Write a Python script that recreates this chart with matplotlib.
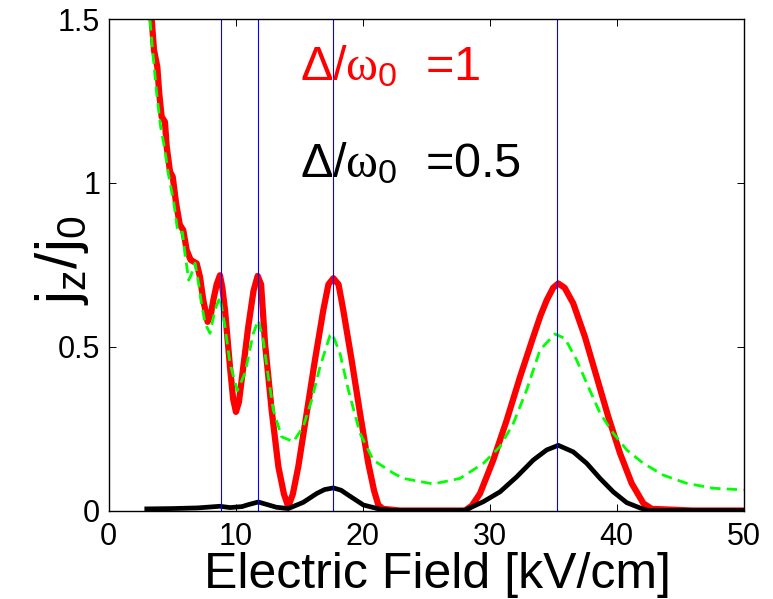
import numpy as np
import matplotlib
matplotlib.use("Agg")
import matplotlib.pyplot as plt

plt.rcParams['font.family'] = ['Liberation Sans', 'DejaVu Sans']
plt.rcParams['mathtext.fontset'] = 'custom'
plt.rcParams['mathtext.rm'] = 'Liberation Sans'
plt.rcParams['mathtext.it'] = 'Liberation Serif'

# field values where the vertical blue markers sit (kV/cm)
resonances = [8.83, 11.77, 17.65, 35.3]

# delta/omega0 = 1 (red)
x_red = [3.39, 3.57, 3.83, 3.98, 4.17, 4.43, 4.57, 4.83, 5.04, 5.3, 5.6, 5.87,
         6.14, 6.45, 6.93, 7.19, 7.45, 7.79, 8.05, 8.24, 8.5, 8.76, 8.95, 9.16,
         9.55, 9.8, 10.02, 10.25, 10.47, 10.99, 11.4, 11.73, 12.0, 12.31, 12.83,
         13.36, 13.8, 14.14, 14.5, 14.93, 15.59, 16.24, 16.9, 17.3, 17.69, 18.1,
         18.47, 19.13, 19.79, 20.44, 20.9, 21.23, 21.6, 22.94, 25.5, 28.06,
         28.6, 29.24, 30.28, 31.34, 32.39, 33.43, 34.0, 34.49, 35.0, 35.4, 35.9,
         36.58, 37.5, 38.42, 39.34, 40.26, 41.18, 42.1, 42.76, 46.0, 50.0]
y_red = [1.497, 1.405, 1.354, 1.273, 1.202, 1.186, 1.11, 1.034, 1.019, 0.94,
         0.872, 0.856, 0.795, 0.765, 0.754, 0.713, 0.642, 0.576, 0.6, 0.642,
         0.69, 0.718, 0.68, 0.612, 0.439, 0.34, 0.301, 0.33, 0.398, 0.561,
         0.67, 0.716, 0.69, 0.51, 0.307, 0.134, 0.05, 0.012, 0.05, 0.134,
         0.297, 0.459, 0.612, 0.69, 0.709, 0.69, 0.612, 0.459, 0.297, 0.144,
         0.06, 0.017, 0.005, 0.0, 0.0, 0.0, 0.015, 0.052, 0.154, 0.276, 0.408,
         0.53, 0.595, 0.642, 0.68, 0.693, 0.68, 0.632, 0.53, 0.408, 0.286,
         0.175, 0.083, 0.022, 0.005, 0.0, 0.0]

# delta/omega0 = 0.5 (black)
x_blk = [3.0, 5.0, 7.0, 8.76, 9.55, 10.5, 11.0, 11.78, 12.5, 13.2, 14.14,
         15.32, 16.38, 17.0, 17.69, 18.3, 18.87, 20.05, 21.36, 22.5, 27.5,
         28.06, 29.5, 30.81, 32.13, 33.43, 34.49, 35.4, 36.58, 37.64, 38.69,
         39.73, 40.79, 41.83, 42.5, 50.0]
y_blk = [0.005, 0.006, 0.008, 0.013, 0.009, 0.012, 0.018, 0.026, 0.018, 0.01,
         0.006, 0.025, 0.052, 0.064, 0.069, 0.062, 0.047, 0.017, 0.004, 0.0,
         0.0, 0.001, 0.027, 0.057, 0.103, 0.154, 0.185, 0.199, 0.179, 0.144,
         0.098, 0.057, 0.024, 0.008, 0.0, 0.0]

# green dashed curve
x_grn = [3.25, 3.46, 3.78, 4.09, 4.43, 4.69, 5.14, 5.4, 5.6, 5.8, 6.0, 6.3,
         6.5, 6.8, 7.06, 7.3, 7.6, 7.98, 8.37, 8.76, 9.16, 9.55, 10.13, 10.73,
         11.39, 11.78, 12.17, 12.57, 12.96, 13.62, 14.54, 15.32, 15.98, 16.64,
         17.43, 17.6, 18.21, 18.87, 19.79, 20.83, 22.41, 23.2, 25.56, 27.66,
         29.5, 30.81, 31.86, 32.91, 33.96, 35.14, 35.93, 36.85, 37.76, 38.69,
         39.73, 40.79, 42.1, 43.67, 45.51, 47.6, 50.0]
y_grn = [1.497, 1.405, 1.273, 1.171, 1.10, 1.029, 0.937, 0.862, 0.845, 0.85,
         0.786, 0.703, 0.72, 0.755, 0.698, 0.633, 0.57, 0.541, 0.612, 0.652,
         0.561, 0.449, 0.366, 0.419, 0.541, 0.581, 0.52, 0.408, 0.307, 0.225,
         0.21, 0.256, 0.337, 0.439, 0.535, 0.54, 0.48, 0.368, 0.236, 0.154,
         0.114, 0.098, 0.081, 0.098, 0.144, 0.195, 0.266, 0.368, 0.49, 0.539,
         0.525, 0.459, 0.378, 0.297, 0.236, 0.185, 0.144, 0.108, 0.083, 0.068,
         0.063]

xticks = [0, 10, 20, 30, 40, 50]
yticks = [0, 0.5, 1, 1.5]
ytick_labels = ['0', '0.5', '1', '1.5']

fig = plt.figure(figsize=(7.73, 5.99), dpi=100)
ax = fig.add_axes([0.1406, 0.1477, 0.8215, 0.8205])

ax.plot(x_red, y_red, color='#ff0000', lw=4.5, solid_joinstyle='round',
        solid_capstyle='round')
ax.plot(x_blk, y_blk, color='black', lw=3.4, solid_joinstyle='round')
ax.plot(x_grn, y_grn, color='#00ff00', lw=2.0, dashes=(3.8, 2.2))
for r in resonances:
    ax.axvline(r, color='#0000ff', lw=0.8)

ax.set_xlim(0, 50)
ax.set_ylim(0, 1.5)
ax.set_xticks(xticks)
ax.set_yticks(yticks)
ax.set_yticklabels(ytick_labels)
ax.tick_params(direction='in', top=True, right=True, length=5, width=0.7,
               labelsize=22)
ax.tick_params(axis='x', pad=8)
ax.tick_params(axis='y', pad=6)
for s in ax.spines.values():
    s.set_linewidth(1.0)

ax.text(15.06, 1.314, r'$\mathit{\Delta}/\mathit{\omega}_0$  =1', color='#ff0000',
        fontsize=35, va='baseline')
ax.text(15.06, 1.018, r'$\mathit{\Delta}/\mathit{\omega}_0$  =0.5', color='black',
        fontsize=35, va='baseline')

fig.text(437 / 773, 1 - 588 / 599, 'Electric Field [kV/cm]', fontsize=36,
         ha='center', va='baseline')
fig.text(62 / 773, 1 - 260 / 599, r'$\mathrm{j_z/j_0}$', fontsize=42,
         rotation=90, ha='center', va='center')

fig.savefig('out.png', dpi=100)
